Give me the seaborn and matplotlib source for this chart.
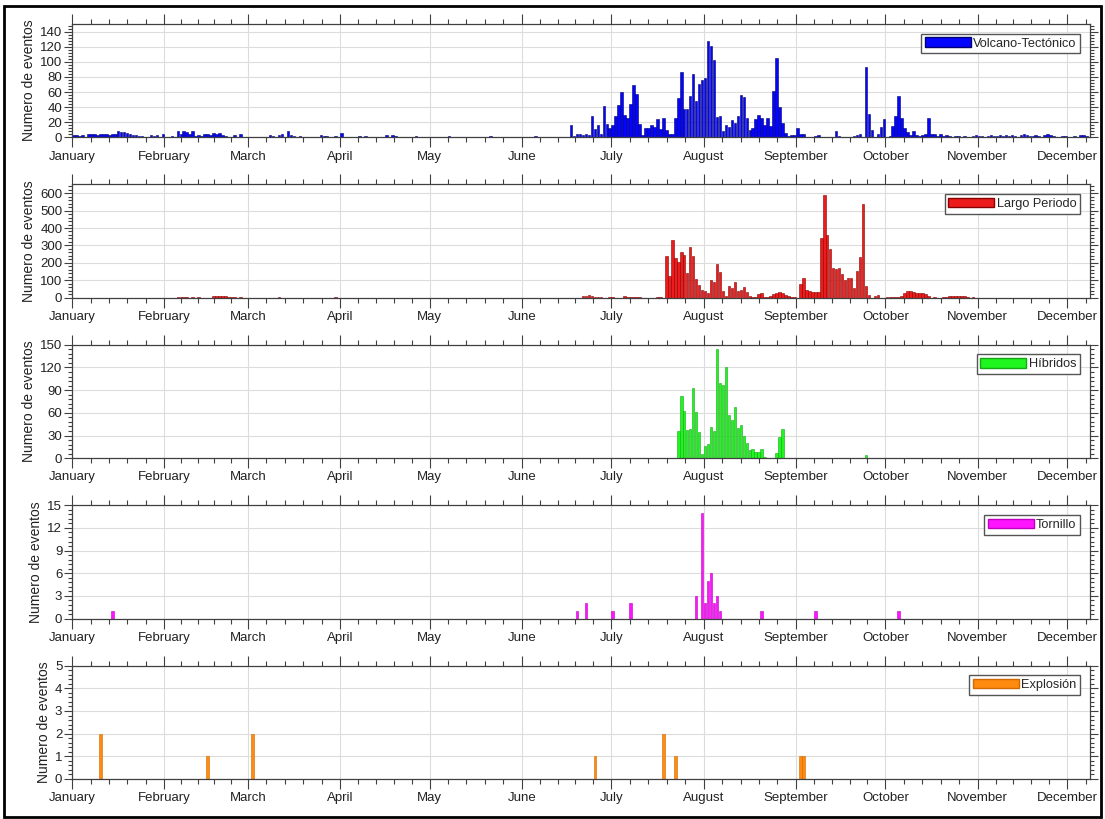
import numpy as np
import pandas as pd
import seaborn as sns
import matplotlib.pyplot as plt
from matplotlib.patches import Patch, Rectangle
from matplotlib.ticker import MultipleLocator, FixedLocator

sns.set_theme(style="ticks")
plt.rcParams['font.family'] = ['Liberation Sans', 'DejaVu Sans']

# === Data (days are counted from January 1 = day 0) ===
months = ['January', 'February', 'March', 'April', 'May', 'June', 'July',
          'August', 'September', 'October', 'November', 'December']
month_len = [31, 28, 31, 30, 31, 30, 31, 31, 30, 31, 30, 31]

# Volcano-Tectonico, daily counts Jan 1 .. Dec 7
vt_jan = [3, 3, 2, 3, 0, 4, 4, 4, 3, 4, 4, 4, 3, 4, 5, 9, 7, 7, 6, 4, 3, 3, 2, 2, 0, 0, 3, 2, 3, 0, 4]
vt_feb = [0, 0, 2, 0, 9, 5, 8, 7, 5, 8, 2, 3, 2, 4, 5, 3, 6, 5, 6, 3, 2, 0, 0, 3, 0, 4, 0, 1]
vt_mar = [0, 1, 0, 0, 1, 0, 0, 3, 2, 0, 3, 4, 0, 9, 3, 2, 1, 2, 0, 1, 1, 1, 0, 0, 3, 2, 2, 0, 1, 2, 0]
vt_apr = [6, 0, 0, 0, 0, 0, 2, 0, 2, 0, 0, 1, 1, 1, 0, 3, 0, 3, 2, 0, 0, 1, 0, 0, 0, 2, 1, 0, 1, 0]
vt_may = [0, 1, 0, 0, 0, 0, 2, 0, 0, 1, 0, 0, 0, 0, 0, 1, 0, 0, 0, 0, 2, 0, 0, 0, 0, 1, 0, 0, 0, 0, 0]
vt_jun = [0, 1, 0, 0, 2, 0, 0, 1, 0, 0, 0, 0, 0, 1, 0, 0, 16, 2, 4, 4, 3, 4, 3, 28, 11, 17, 5, 42, 18, 13]
vt_jul = [17, 28, 43, 60, 29, 25, 44, 69, 57, 18, 3, 13, 12, 16, 14, 24, 11, 25, 10, 5,
          4, 25, 52, 86, 38, 37, 55, 84, 48, 70, 76]
vt_aug = [78, 128, 121, 103, 27, 28, 8, 16, 14, 23, 19, 28, 56, 53, 26, 10, 13, 24, 30, 26,
          17, 25, 15, 61, 105, 40, 19, 6, 2, 3, 3]
vt_sep = [12, 4, 4, 1, 0, 1, 2, 3, 0, 1, 0, 0, 0, 9, 2, 0, 0, 0, 0, 2, 3, 4, 0, 93, 31, 10, 0, 4, 14, 24]
vt_oct = [0, 2, 15, 28, 55, 26, 13, 7, 3, 8, 3, 2, 3, 5, 26, 4, 4, 2, 4, 2, 3, 2, 1, 2, 2, 1, 2, 1, 1, 2, 3]
vt_nov = [2, 2, 1, 2, 3, 2, 2, 3, 2, 3, 2, 3, 2, 1, 3, 5, 3, 2, 2, 3, 2, 1, 3, 4, 3, 2, 1, 1, 2, 2]
vt_dec = [1, 1, 2, 0, 3, 3, 2]

# Largo Periodo: a few small days in Feb-Mar, then daily counts from Jun 18
lp_early_days = [35, 36, 37, 38, 40, 42, 47, 48, 49, 50, 51, 52, 53, 54, 56, 69, 88]
lp_early_counts = [5, 6, 4, 5, 3, 4, 8, 9, 10, 9, 8, 6, 7, 5, 4, 3, 3]
lp_first_day = 168
lp_jun = [0, 0, 0, 8, 13, 17, 12, 5, 4, 5, 0, 0, 5]
lp_jul = [4, 0, 0, 0, 12, 5, 4, 5, 4, 6, 0, 0, 0, 0, 0, 5, 6, 0, 237, 125,
          330, 228, 205, 260, 247, 141, 291, 241, 106, 73, 44]
lp_aug = [40, 29, 102, 89, 193, 149, 40, 12, 68, 58, 93, 40, 44, 60, 35, 12, 6, 6, 23, 25,
          6, 6, 10, 21, 29, 33, 27, 15, 10, 6, 6]
lp_sep = [0, 79, 116, 44, 40, 33, 33, 33, 344, 590, 361, 282, 170, 166, 170, 137, 102, 116, 116, 58,
          151, 234, 540, 68, 15, 0, 10, 15, 0, 0]
lp_oct = [4, 5, 3, 6, 5, 12, 30, 38, 36, 35, 30, 28, 25, 22, 8, 0, 4, 0, 0, 3,
          6, 10, 12, 8, 10, 9, 12, 6, 0, 3, 0]

# Hibridos: daily counts from Jul 23, plus one late day
hyb_first_day = 203
hyb_counts = [36, 82, 63, 37, 39, 93, 61, 34, 5, 16, 19, 41, 36, 144, 99, 97, 120, 57, 50, 68,
              40, 44, 30, 20, 11, 12, 8, 8, 12, 1, 0, 0, 0, 7, 28, 38]
hyb_extra_days = [266]
hyb_extra_counts = [4]

# Tornillo
tor_days = [13, 169, 172, 181, 187, 209, 211, 212, 213, 214, 215, 216, 217, 231, 249, 277]
tor_counts = [1, 1, 2, 1, 2, 3, 14, 2, 5, 6, 2, 3, 1, 1, 1, 1]

# Explosion
exp_days = [9, 45, 60, 175, 198, 202, 244, 245]
exp_counts = [2, 1, 2, 1, 2, 1, 1, 1]


def series(days, counts):
    df = pd.DataFrame({'day': np.asarray(days, dtype=float) + 0.5, 'n': counts})
    return df[df['n'] > 0]


vt_all = vt_jan + vt_feb + vt_mar + vt_apr + vt_may + vt_jun + vt_jul + vt_aug + vt_sep + vt_oct + vt_nov + vt_dec
vt = series(np.arange(len(vt_all)), vt_all)

lp_block = lp_jun + lp_jul + lp_aug + lp_sep + lp_oct
lp = pd.concat([series(lp_early_days, lp_early_counts),
                series(lp_first_day + np.arange(len(lp_block)), lp_block)])

hyb = pd.concat([series(hyb_first_day + np.arange(len(hyb_counts)), hyb_counts),
                 series(hyb_extra_days, hyb_extra_counts)])
tor = series(tor_days, tor_counts)
exp = series(exp_days, exp_counts)

panels = [
    (vt, 'Volcano-Tectónico', '#0505ff', '#00006e', 150, 20),
    (lp, 'Largo Periodo', '#ec1c1c', '#8a0000', 650, 100),
    (hyb, 'Híbridos', '#1ff51f', '#17a817', 150, 30),
    (tor, 'Tornillo', '#ff14ff', '#c000c0', 15, 3),
    (exp, 'Explosión', '#ff8a10', '#d06a00', 5, 1),
]

month_start = np.concatenate([[0], np.cumsum(month_len)[:-1]])
minor_x = [s + k * l / 5 for s, l in zip(month_start, month_len) for k in range(1, 5)]

fig, axes = plt.subplots(5, 1, figsize=(11.05, 8.19), dpi=100)
plt.subplots_adjust(left=0.0652, right=0.9864, top=1 - 24 / 819, bottom=1 - 779 / 819, hspace=0.415)

for ax, (df, label, face, edge, ymax, ystep) in zip(axes, panels):
    sns.barplot(data=df, x='day', y='n', native_scale=True, orient='x', ax=ax,
                color=face, saturation=1, edgecolor=edge, linewidth=0.4,
                width=0.85, errorbar=None)
    ax.set_xlim(0, 341.7)
    ax.set_ylim(0, ymax)

    ax.xaxis.set_major_locator(FixedLocator(month_start))
    ax.xaxis.set_minor_locator(FixedLocator(minor_x))
    ax.set_xticklabels(months)
    ax.yaxis.set_major_locator(MultipleLocator(ystep))
    ax.yaxis.set_minor_locator(MultipleLocator(ystep / 5))

    ax.grid(which='major', color='#dcdcdc', linewidth=0.8)
    ax.set_axisbelow(True)
    ax.tick_params(which='both', direction='out', top=True, right=True,
                   labeltop=False, labelright=False, colors='#404040',
                   labelcolor='#222222', labelsize=9.5, width=0.8)
    ax.tick_params(axis='x', which='major', length=7, pad=2.5)
    ax.tick_params(axis='x', which='minor', length=3.5)
    ax.tick_params(axis='y', which='major', length=5.5, pad=1.5)
    ax.tick_params(axis='y', which='minor', length=3)
    for sp in ax.spines.values():
        sp.set_visible(True)
        sp.set_color('#404040')
        sp.set_linewidth(0.9)

    ax.set_xlabel('')
    ax.set_ylabel('Numero de eventos', fontsize=10, color='#222222', labelpad=3)

    leg = ax.legend(handles=[Patch(facecolor=face, edgecolor=edge, label=label)],
                    loc='upper right', fontsize=9.2, fancybox=False, framealpha=1,
                    edgecolor='#555555', handlelength=3.6, handleheight=0.75,
                    handletextpad=0.2, borderpad=0.3, borderaxespad=0.75)
    leg.get_frame().set_linewidth(1.0)

# black frame around the whole figure
fig.patches.append(Rectangle((0.004, 0.003), 0.992, 0.990, transform=fig.transFigure,
                             fill=False, edgecolor='black', linewidth=2))

fig.savefig('out.png', dpi=100)
